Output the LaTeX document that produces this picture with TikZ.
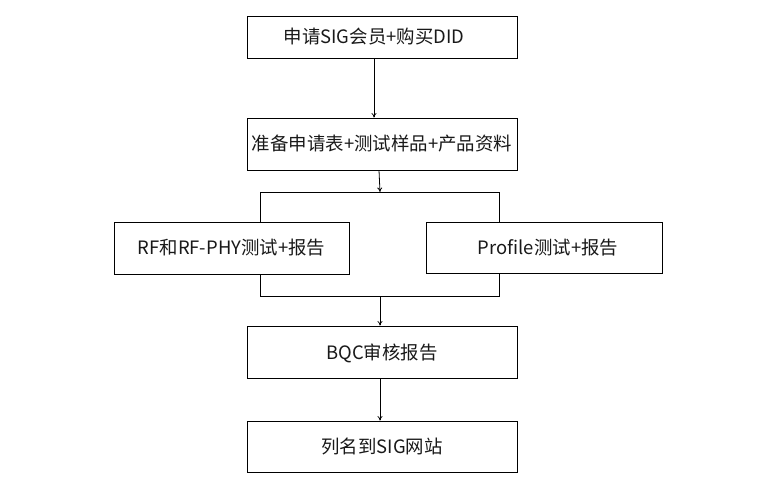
\documentclass[tikz,border=0pt]{standalone}
\usepackage{fontspec}
\setmainfont{Noto Sans CJK SC}
\usepackage{tikz}
\usetikzlibrary{arrows.meta}

\begin{document}
\begin{tikzpicture}
    [font=\fontsize{18.5}{22}\selectfont, x=1bp, y=-1bp,
     >={To[length=4.5pt, width=5pt]},
     line width=.8pt,
     box/.style={draw, inner sep=0pt, text=black!90,
                 text height=17bp, text depth=3bp},
    ]
    \useasboundingbox[fill=white] (0, 0) rectangle (758, 481);

    % Main steps
    \foreach \name / \cy / \boxh / \txt in
             {apply/37/42/申请SIG会员+购买DID\kern16bp\relax,
              prepare/144/52/准备申请表+测试样品+产品资料,
              review/352/52/BQC审核报告,
              listing/446.5/51/列名到SIG网站} {
        \node[box, minimum width=270bp, minimum height=\boxh bp]
            (\name) at (382, \cy) {\txt};
    }
    % Parallel tests
    \node[box, minimum width=235bp, minimum height=52bp]
        (rf) at (231.5, 248) {RF和RF-PHY测试+报告};
    \node[box, minimum width=236bp, minimum height=51bp]
        (profile) at (544, 247.5) {\hspace{8bp}Profile测试+报告};

    \coordinate (split) at (380, 192);
    \coordinate (splitL) at (260, 192);
    \coordinate (splitR) at (499, 192);
    \coordinate (merge) at (380, 296);
    \coordinate (mergeL) at (260, 296);
    \coordinate (mergeR) at (499, 296);

    \draw[->] ([xshift=-8bp]apply.south) -- ([xshift=-8bp]prepare.north);
    \draw[->] ([xshift=-3bp]prepare.south) -- (split);
    \draw (rf.north -| splitL) -- (splitL) -- (splitR) -- (profile.north -| splitR);
    \draw (rf.south -| mergeL) -- (mergeL) -- (mergeR) -- (profile.south -| mergeR);
    \draw[->] (merge) -- (merge |- review.north);
    \draw[->] (review.south -| merge) -- (listing.north -| merge);
\end{tikzpicture}
\end{document}
